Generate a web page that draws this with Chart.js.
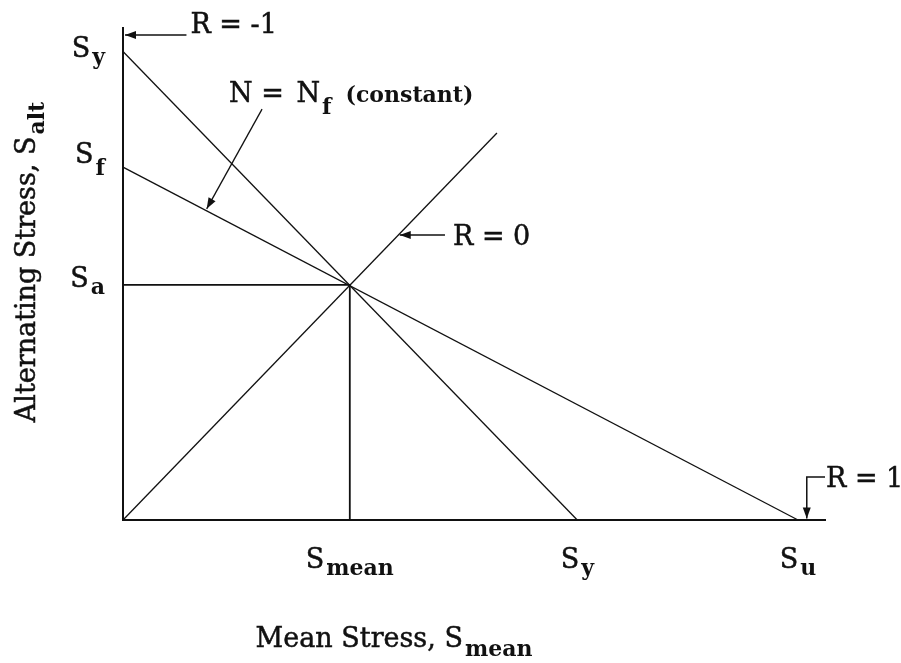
<!DOCTYPE html>
<html>
<head>
<meta charset="utf-8">
<script src="https://cdn.jsdelivr.net/npm/chart.js@4.4.1/dist/chart.umd.min.js"></script>
<style>
  html, body { margin: 0; padding: 0; background: #fff; }
</style>
</head>
<body>
<canvas id="goodman" width="901" height="663"></canvas>
<script>
// Constant life diagram, normalised: Su = 1 along x, Sy = 1 along y
const yMarks = [1, 0.753, 0.502];          // Sy, Sf, Sa
const yMarkSubs = ["y", "f", "a"];
const xMarks = [0.336, 0.673, 1];          // Smean, Sy, Su
const xMarkSubs = ["mean", "y", "u"];

const yieldLine = [{x: 0, y: 1}, {x: 0.673, y: 0}];
const goodmanLine = [{x: 0, y: 0.753}, {x: 1, y: 0}];
const rZeroLine = [{x: 0, y: 0}, {x: 0.554, y: 0.826}];
const operatingLines = [{x: 0, y: 0.502}, {x: 0.336, y: 0.502}, {x: 0.336, y: 0}];

// leader arrows, the last point is the tip
const arrowRm1 = [{x: 0.094, y: 1.035}, {x: 0.003, y: 1.035}];
const arrowNf = [{x: 0.206, y: 0.877}, {x: 0.124, y: 0.664}];
const arrowR0 = [{x: 0.477, y: 0.608}, {x: 0.41, y: 0.608}];
const arrowR1 = [{x: 1.04, y: 0.092}, {x: 1.013, y: 0.092}, {x: 1.013, y: 0.003}];

const FONT = "27px 'DejaVu Serif'";
const SUB_FONT = "bold 22px 'DejaVu Serif'";

function line(data, width) {
    return {
        data: data,
        showLine: true,
        borderColor: "#111",
        borderWidth: width,
        pointRadius: 0,
        clip: false,
    };
}

// the scanned labels look heavy, so stroke the regular text a little
function heavyText(ctx, s, x, y) {
    ctx.fillText(s, x, y);
    ctx.strokeText(s, x, y);
}

// draws "S" + bold subscript, x is left edge unless align = center/right
function subText(ctx, x, y, main, sub, align, drop) {
    ctx.font = FONT;
    const w1 = ctx.measureText(main).width;
    ctx.font = SUB_FONT;
    const w2 = ctx.measureText(sub).width;
    const gap = 2;
    let left = x;
    if (align === "center") left = x - (w1 + gap + w2) / 2;
    if (align === "right") left = x - (w1 + gap + w2);
    ctx.textAlign = "left";
    ctx.textBaseline = "alphabetic";
    ctx.font = FONT;
    heavyText(ctx, main, left, y);
    ctx.font = SUB_FONT;
    ctx.fillText(sub, left + w1 + gap, y + (drop || 8));
    return w1 + gap + w2;
}

function arrowHead(ctx, from, to) {
    const ang = Math.atan2(to.y - from.y, to.x - from.x);
    const len = 11, half = 4;
    ctx.save();
    ctx.translate(to.x, to.y);
    ctx.rotate(ang);
    ctx.beginPath();
    ctx.moveTo(0, 0);
    ctx.lineTo(-len, -half);
    ctx.lineTo(-len, half);
    ctx.closePath();
    ctx.fill();
    ctx.restore();
}

const labelsPlugin = {
    id: "labels",
    afterDraw(chart) {
        const ctx = chart.ctx;
        const xs = chart.scales.x, ys = chart.scales.y;
        const px = p => ({x: xs.getPixelForValue(p.x), y: ys.getPixelForValue(p.y)});
        ctx.save();
        ctx.fillStyle = "#111";
        ctx.strokeStyle = "#111";
        ctx.lineWidth = 0.5;

        // arrow heads
        [arrowRm1, arrowNf, arrowR0, arrowR1].forEach(a => {
            arrowHead(ctx, px(a[a.length - 2]), px(a[a.length - 1]));
        });

        // left marks
        const yNudge = [6, -4, 2];
        yMarks.forEach((v, i) => {
            subText(ctx, 105, ys.getPixelForValue(v) + yNudge[i], "S", yMarkSubs[i], "right",
                yMarkSubs[i] === "f" ? 12 : 7);
        });
        // bottom marks
        xMarks.forEach((v, i) => {
            subText(ctx, xs.getPixelForValue(v), 568, "S", xMarkSubs[i], "center", 7);
        });

        // leader labels
        ctx.font = FONT;
        ctx.textBaseline = "alphabetic";
        ctx.textAlign = "left";
        let p = px(arrowRm1[0]);
        heavyText(ctx, "R = -1", p.x + 4, p.y - 2);
        p = px(arrowR0[0]);
        heavyText(ctx, "R = 0", p.x + 8, p.y + 10);
        p = px(arrowR1[0]);
        heavyText(ctx, "R = 1", p.x + 1, p.y + 10);
        p = px(arrowNf[0]);
        heavyText(ctx, "N = ", p.x - 33, p.y - 7);
        const wN = ctx.measureText("N = ").width;
        const wNf = subText(ctx, p.x - 33 + wN + 4, p.y - 7, "N", "f", "left", 12);
        ctx.font = SUB_FONT;
        ctx.fillText("(constant)", p.x - 33 + wN + 4 + wNf + 14, p.y - 7);

        // axis titles
        ctx.font = FONT;
        const wx = ctx.measureText("Mean Stress, S").width;
        ctx.font = SUB_FONT;
        const wxs = ctx.measureText("mean").width;
        subText(ctx, 394 - (wx + 2 + wxs) / 2, 647, "Mean Stress, S", "mean", "left", 9);

        ctx.translate(35, 262);
        ctx.rotate(-Math.PI / 2);
        subText(ctx, 0, 0, "Alternating Stress, S", "alt", "center", 9);
        ctx.restore();
    }
};

const config = {
    type: "scatter",
    data: {
        datasets: [
            line(yieldLine, 1.3),
            line(goodmanLine, 1.3),
            line(rZeroLine, 1.3),
            line(operatingLines, 1.8),
            line(arrowRm1, 1.5),
            line(arrowNf, 1.3),
            line(arrowR0, 1.5),
            line(arrowR1, 1.5),
        ]
    },
    options: {
        responsive: false,
        devicePixelRatio: 1,
        animation: false,
        layout: {padding: {left: 123, right: 76, top: 28, bottom: 143}},
        plugins: {legend: {display: false}, tooltip: {enabled: false}},
        scales: {
            x: {
                type: "linear", min: 0, max: 1.04,
                grid: {display: false, drawTicks: false},
                ticks: {display: false},
                border: {display: true, color: "#111", width: 2},
            },
            y: {
                type: "linear", min: 0, max: 1.05,
                grid: {display: false, drawTicks: false},
                ticks: {display: false},
                border: {display: true, color: "#111", width: 2},
            }
        }
    },
    plugins: [labelsPlugin]
};

var chart = new Chart(document.getElementById("goodman"), config);
</script>
</body>
</html>
